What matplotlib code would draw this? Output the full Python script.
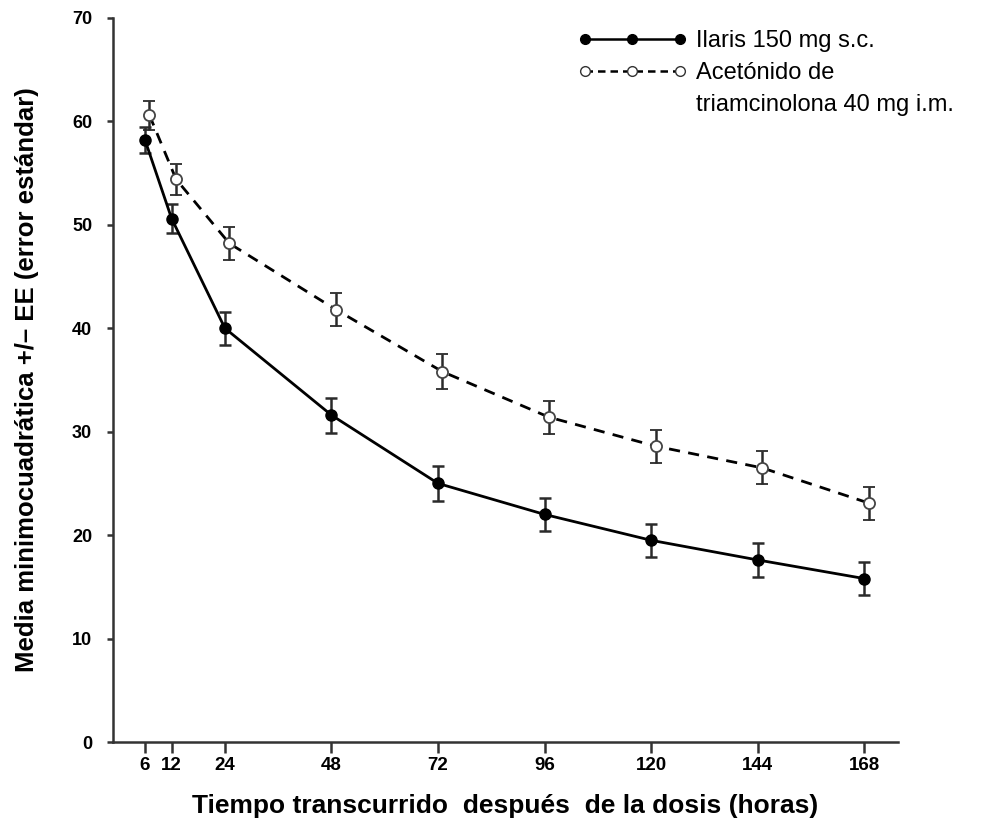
"""Media minimocuadrática vs tiempo tras la dosis: Ilaris vs acetónido de triamcinolona."""

import matplotlib
import matplotlib.pyplot as plt
from matplotlib.lines import Line2D

matplotlib.use("Agg")

# ── Data ──────────────────────────────────────────────────────────────────────

hours = [6, 12, 24, 48, 72, 96, 120, 144, 168]
ilaris_mean = [58.2, 50.6, 40.0, 31.6, 25.0, 22.0, 19.5, 17.6, 15.8]
ilaris_err = [1.3, 1.4, 1.6, 1.7, 1.7, 1.6, 1.6, 1.6, 1.6]
triam_hours = [7, 13, 25, 49, 73, 97, 121, 145, 169]
triam_mean = [60.6, 54.4, 48.2, 41.8, 35.8, 31.4, 28.6, 26.5, 23.1]
triam_err = [1.4, 1.5, 1.6, 1.6, 1.7, 1.6, 1.6, 1.6, 1.6]

tick_labels = ["6", "12", "24", "48", "72", "96", "120", "144", "168"]
y_ticks = [0, 10, 20, 30, 40, 50, 60, 70]

label_ilaris = "Ilaris 150 mg s.c."
label_triam_1 = "Acetónido de"
label_triam_2 = "triamcinolona 40 mg i.m."

FONT = ["Liberation Sans", "DejaVu Sans"]

# ── Chart ─────────────────────────────────────────────────────────────────────

fig = plt.figure(figsize=(9.82, 8.21), dpi=100)
ax = fig.add_axes([0.1151, 0.0962, 0.7994, 0.882])

ax.errorbar(
    hours, ilaris_mean, yerr=ilaris_err,
    color="black", linestyle="-", linewidth=2,
    marker="o", markersize=8, markerfacecolor="black", markeredgecolor="black",
    ecolor="#2a2a2a", elinewidth=1.8, capsize=4.5, capthick=1.8,
)
ax.errorbar(
    triam_hours, triam_mean, yerr=triam_err,
    color="black", linestyle=(0, (4, 3)), linewidth=2,
    marker="o", markersize=8, markerfacecolor="white", markeredgecolor="#444444",
    markeredgewidth=1.3,
    ecolor="#2a2a2a", elinewidth=1.8, capsize=4.5, capthick=1.8,
)

ax.set_xlim(-1.2, 175.6)
ax.set_ylim(0, 70)
ax.set_xticks(hours)
ax.set_yticks(y_ticks)
ax.tick_params(axis="x", direction="out", length=8, width=1.8, pad=3, color="#333333",
               labelsize=13.5)
ax.tick_params(axis="y", direction="out", length=4, width=1.8, pad=11, color="#333333",
               labelsize=13)
ax.set_xticklabels(tick_labels, family=FONT, fontsize=13.5, fontweight="bold")
ax.set_yticklabels([str(v) for v in y_ticks], family=FONT, fontsize=13, fontweight="bold")

ax.spines[["top", "right"]].set_visible(False)
ax.spines[["left", "bottom"]].set_linewidth(1.8)
ax.spines["left"].set_color("#333333")
ax.spines["bottom"].set_color("#333333")

ax.set_xlabel(
    "Tiempo transcurrido  después  de la dosis (horas)",
    family=FONT, fontsize=19, fontweight="bold", labelpad=14,
)
ax.set_ylabel(
    "Media minimocuadrática +/– EE (error estándar)",
    family=FONT, fontsize=18.5, fontweight="bold", labelpad=24,
)

handles = [
    Line2D([], [], color="black", linestyle="-", linewidth=1.8,
           marker="o", markersize=7, markerfacecolor="black"),
    Line2D([], [], color="black", linestyle=(0, (3, 2)), linewidth=1.8,
           marker="o", markersize=7, markerfacecolor="white", markeredgecolor="#333333"),
    Line2D([], [], linestyle="none"),
]
fig.legend(
    handles, [label_ilaris, label_triam_1, label_triam_2],
    loc="upper left", bbox_to_anchor=(578 / 982, 1 - 30 / 821), frameon=False, numpoints=3,
    prop={"family": FONT, "size": 17}, handlelength=4.6, handletextpad=0.4,
    labelspacing=0.42, borderaxespad=0, borderpad=0,
)

fig.savefig("out.png", dpi=100)
plt.close(fig)
